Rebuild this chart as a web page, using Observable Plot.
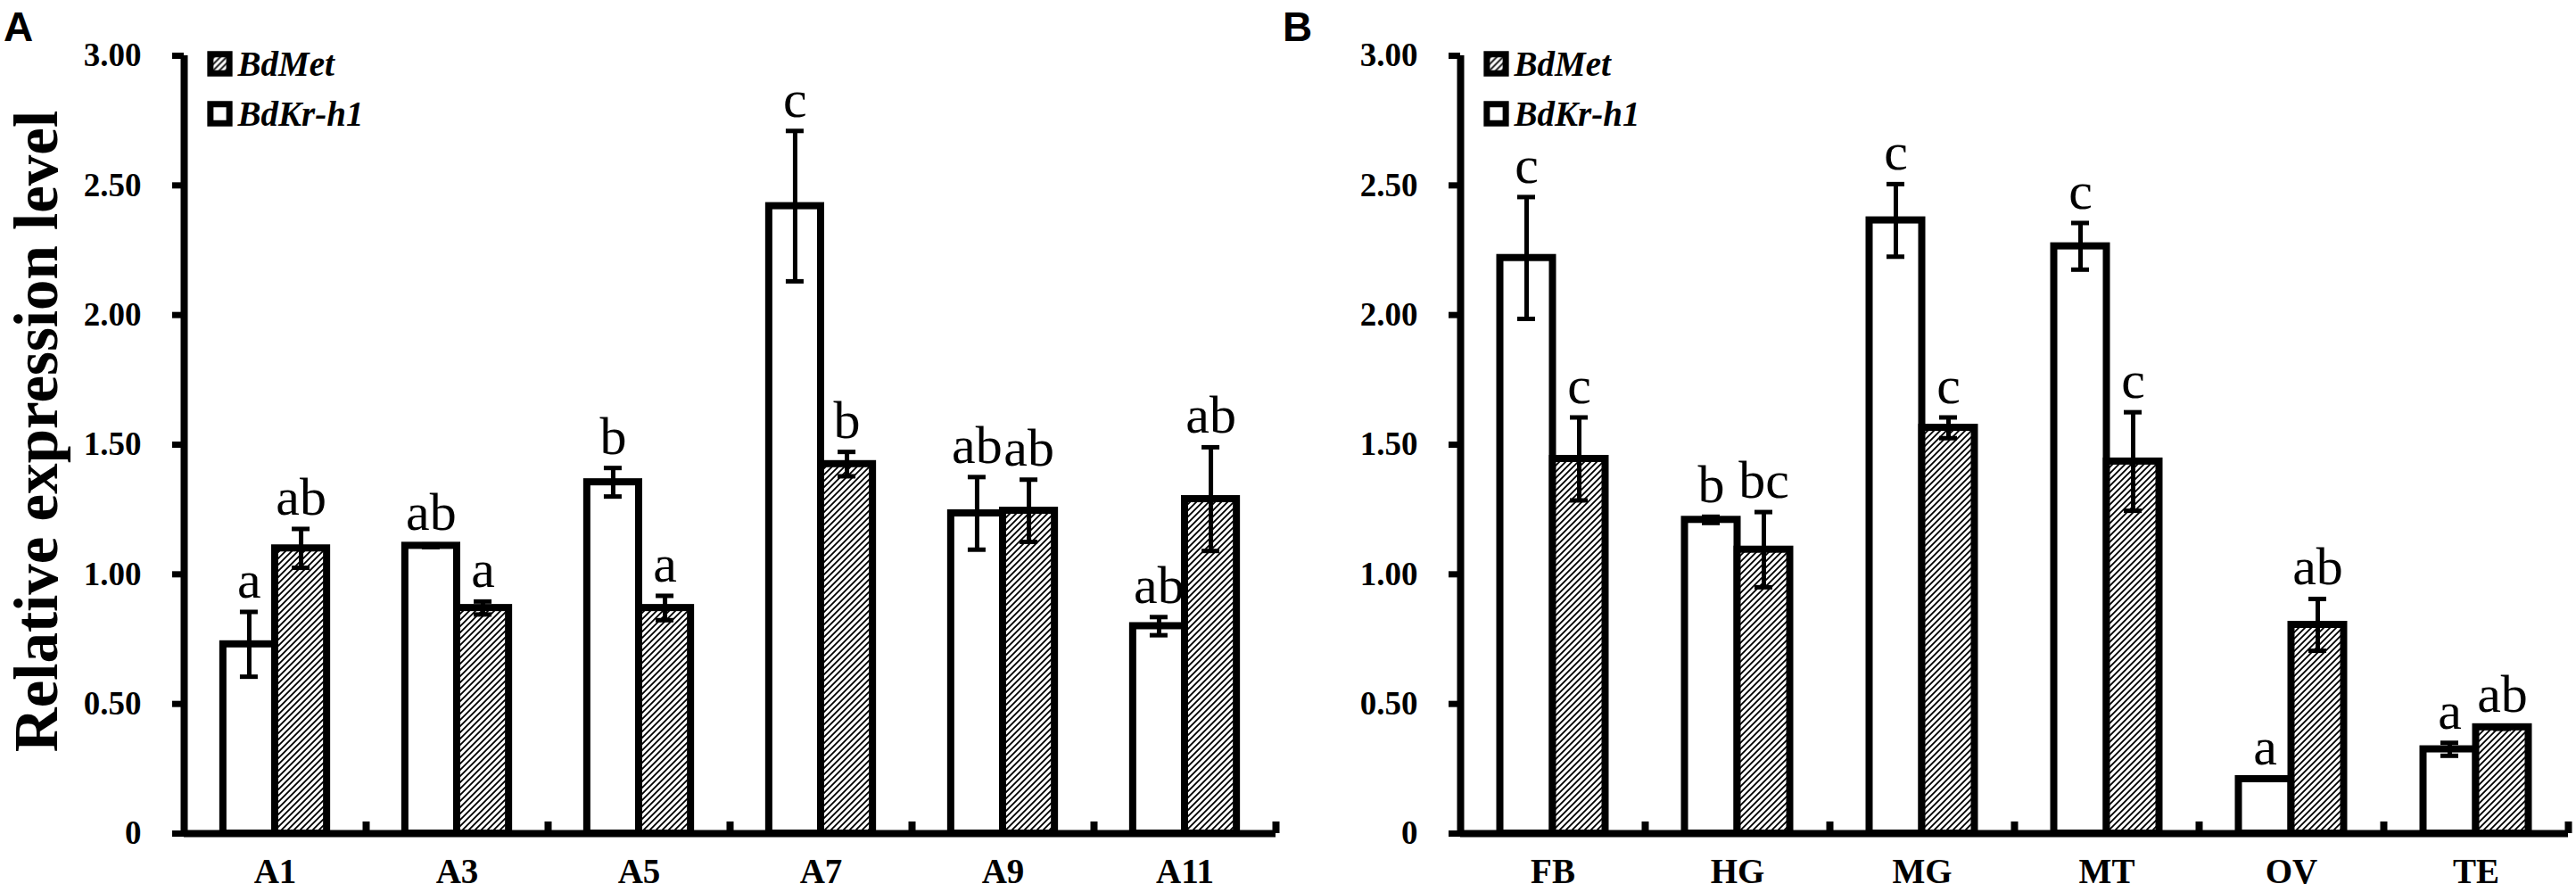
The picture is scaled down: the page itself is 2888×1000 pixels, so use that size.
<!DOCTYPE html>
<html><head><meta charset="utf-8">
<script src="https://cdn.jsdelivr.net/npm/d3@7"></script>
<script src="https://cdn.jsdelivr.net/npm/@observablehq/plot@0.6"></script>
<style>
html,body{margin:0;padding:0;background:#fff;}
#wrap{position:relative;width:2888px;height:1000px;overflow:hidden;background:#fff;}
.panel{position:absolute;top:0;}
.plabel{position:absolute;top:3px;line-height:1;font:bold 46px "Liberation Sans",Arial,sans-serif;color:#000;z-index:5;}
.panel svg g[aria-label^="y-axis"] line,
.panel svg g[aria-label="y-axis tick"] path{stroke-width:7px;}
.panel svg g[aria-label^="x-axis"] text{font-size:39px;}
</style></head>
<body>
<svg width="0" height="0" style="position:absolute"><defs>
<pattern id="hatch" patternUnits="userSpaceOnUse" width="7" height="7">
<rect width="7" height="7" fill="#fff"/>
<path d="M-1,1L1,-1M0,7L7,0M6,8L8,6" stroke="#000" stroke-width="1.8"/>
</pattern>
</defs></svg>
<div id="wrap">
  <div class="panel" id="pA" style="left:0px"></div>
  <div class="panel" id="pB" style="left:1440px"></div>
  <div class="plabel" style="left:4px">A</div>
  <div class="plabel" style="left:1438px">B</div>
</div>
<script>
// ---- data ----
const seriesNames = ["BdMet", "BdKr-h1"];
const yTitle = "Relative expression level";
const yTicks = [0, 0.5, 1, 1.5, 2, 2.5, 3];
const yTickLabels = ["0", "0.50", "1.00", "1.50", "2.00", "2.50", "3.00"];

const stagesA = ["A1", "A3", "A5", "A7", "A9", "A11"];
const krA = [0.73, 1.11, 1.355, 2.42, 1.235, 0.80];
const krAErr = [0.125, 0.005, 0.055, 0.29, 0.14, 0.035];
const krALetters = ["a", "ab", "b", "c", "ab", "ab"];
const metA = [1.10, 0.87, 0.87, 1.425, 1.245, 1.29];
const metAErr = [0.075, 0.025, 0.047, 0.047, 0.12, 0.20];
const metALetters = ["ab", "a", "a", "b", "ab", "ab"];

const tissuesB = ["FB", "HG", "MG", "MT", "OV", "TE"];
const krB = [2.22, 1.21, 2.365, 2.265, 0.21, 0.325];
const krBErr = [0.235, 0.012, 0.14, 0.09, 0.003, 0.025];
const krBLetters = ["c", "b", "c", "c", "a", "a"];
const metB = [1.445, 1.095, 1.565, 1.435, 0.805, 0.41];
const metBErr = [0.16, 0.145, 0.04, 0.19, 0.10, 0.006];
const metBLetters = ["c", "bc", "c", "c", "ab", "ab"];

function makePanel(cats, kr, krErr, krL, met, metErr, metL, o) {
  const kRows = cats.map((c, i) => ({cat: c, v: kr[i], e: krErr[i], l: krL[i]}));
  const mRows = cats.map((c, i) => ({cat: c, v: met[i], e: metErr[i], l: metL[i]}));
  const bw = (o.width - o.ml - o.mr) / cats.length;
  const outer = 0.215 * bw, barW = 0.285 * bw, off = barW / 2, cap = 10;
  const errMarks = (rows, sign) => [
    Plot.ruleX(rows, {x: "cat", y1: d => d.v - d.e, y2: d => d.v + d.e, dx: sign * off, stroke: "black", strokeWidth: 5}),
    Plot.tickY(rows, {x: "cat", y: d => d.v + d.e, insetLeft: bw / 2 + sign * off - cap, insetRight: bw / 2 - sign * off - cap, stroke: "black", strokeWidth: 5}),
    Plot.tickY(rows, {x: "cat", y: d => d.v - d.e, insetLeft: bw / 2 + sign * off - cap, insetRight: bw / 2 - sign * off - cap, stroke: "black", strokeWidth: 5}),
    Plot.text(rows, {x: "cat", y: d => d.v + d.e, text: "l", dx: sign * off, dy: -16, lineAnchor: "bottom",
      fontSize: 60, fontFamily: "Liberation Serif", fontWeight: "normal"})
  ];
  const marks = [
    Plot.barY(kRows, {x: "cat", y: "v", insetLeft: outer, insetRight: bw - outer - barW, fill: "white", stroke: "black", strokeWidth: 8}),
    Plot.barY(mRows, {x: "cat", y: "v", insetLeft: bw - outer - barW, insetRight: outer, fill: "url(#hatch)", stroke: "black", strokeWidth: 8}),
    ...errMarks(kRows, -1),
    ...errMarks(mRows, 1),
    Plot.ruleY([0], {stroke: "black", strokeWidth: 8}),
    Plot.ruleX([cats[0]], {x: d => d, y1: 0, y2: 3, dx: -bw / 2, stroke: "black", strokeWidth: 8}),
    Plot.ruleX(cats, {x: d => d, y1: 0, y2: 0.045, dx: bw / 2, stroke: "black", strokeWidth: 8}),
    // legend
    Plot.dot([seriesNames[0]], {frameAnchor: "top-left", dx: 40, dy: 9, r: 12, symbol: "square", fill: "url(#hatch)", stroke: "black", strokeWidth: 7}),
    Plot.text([seriesNames[0]], {frameAnchor: "top-left", text: d => d, dx: 60, dy: 10, textAnchor: "start", lineAnchor: "middle",
      fontStyle: "italic", fontWeight: "bold", fontSize: 39, fontFamily: "Liberation Serif"}),
    Plot.dot([seriesNames[1]], {frameAnchor: "top-left", dx: 40, dy: 65, r: 12, symbol: "square", fill: "white", stroke: "black", strokeWidth: 7}),
    Plot.text([seriesNames[1]], {frameAnchor: "top-left", text: d => d, dx: 60, dy: 66, textAnchor: "start", lineAnchor: "middle",
      fontStyle: "italic", fontWeight: "bold", fontSize: 39, fontFamily: "Liberation Serif"})
  ];
  if (o.title) {
    marks.push(Plot.text([yTitle], {frameAnchor: "left", text: d => d, dx: -143, dy: -15, rotate: -90,
      textAnchor: "middle", lineAnchor: "bottom",
      fontSize: 69, fontWeight: "bold", fontFamily: "Liberation Serif"}));
  }
  return Plot.plot({
    width: o.width, height: 1000,
    marginLeft: o.ml, marginRight: o.mr, marginTop: 62, marginBottom: 66,
    style: {fontFamily: "Liberation Serif", fontSize: "37px", fontWeight: "bold", background: "white", color: "black", overflow: "visible"},
    x: {domain: cats, padding: 0, tickSize: 0, tickPadding: 28, label: null},
    y: {domain: [0, 3], ticks: yTicks, tickFormat: d => yTickLabels[yTicks.indexOf(d)], tickSize: 13, tickPadding: 35, label: null},
    marks
  });
}

document.getElementById("pA").append(
  makePanel(stagesA, krA, krAErr, krALetters, metA, metAErr, metALetters, {width: 1440, ml: 206, mr: 10, title: true}));
document.getElementById("pB").append(
  makePanel(tissuesB, krB, krBErr, krBLetters, metB, metBErr, metBLetters, {width: 1448, ml: 197, mr: 9, title: false}));
</script>
</body></html>
